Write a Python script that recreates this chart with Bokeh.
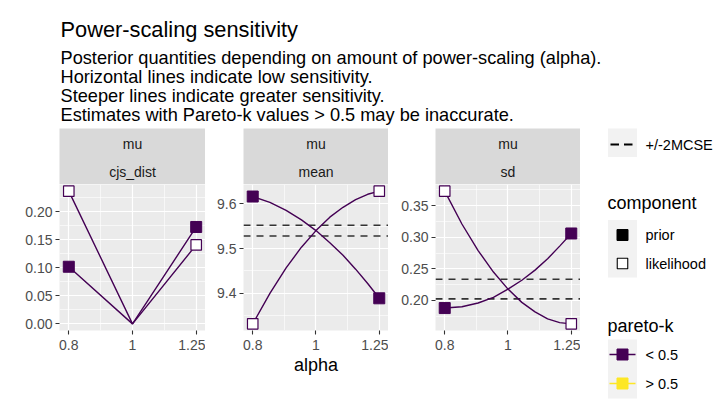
from bokeh.plotting import figure
from bokeh.layouts import column, row
from bokeh.models import Range1d, FixedTicker, ColumnDataSource
from bokeh.core.properties import value
from bokeh.embed import file_html
from bokeh.resources import INLINE

FONT = "Liberation Sans"

# ---------------- data ----------------
title_text = "Power-scaling sensitivity"
subtitle_lines = [
    "Posterior quantities depending on amount of power-scaling (alpha).",
    "Horizontal lines indicate low sensitivity.",
    "Steeper lines indicate greater sensitivity.",
    "Estimates with Pareto-k values > 0.5 may be inaccurate.",
]
variable = "mu"
quantities = ["cjs_dist", "mean", "sd"]

alpha_cjs = [0.8, 1.0, 1.25]
cjs_prior = [0.102, 0.0, 0.173]
cjs_likelihood = [0.237, 0.0, 0.141]

alpha_grid = [0.8, 0.85, 0.9, 0.95, 1.0, 1.05, 1.1, 1.15, 1.2, 1.25]
mean_prior = [9.616, 9.603, 9.585, 9.564, 9.540, 9.513, 9.485, 9.454, 9.422, 9.389]
mean_likelihood = [9.332, 9.400, 9.457, 9.503, 9.540, 9.570, 9.592, 9.609, 9.621, 9.628]
sd_prior = [0.188, 0.190, 0.196, 0.205, 0.218, 0.232, 0.248, 0.266, 0.286, 0.306]
sd_likelihood = [0.373, 0.321, 0.279, 0.245, 0.218, 0.197, 0.182, 0.171, 0.165, 0.163]

mcse_mean = [9.528, 9.552]
mcse_sd = [0.2025, 0.2335]

x_ticks = [0.8, 1.0, 1.25]
x_tick_labels = ["0.8", "1", "1.25"]
x_minor = [0.8944, 1.118]

y_ticks_cjs = [0.0, 0.05, 0.10, 0.15, 0.20]
y_labels_cjs = ["0.00", "0.05", "0.10", "0.15", "0.20"]
y_ticks_mean = [9.4, 9.5, 9.6]
y_labels_mean = ["9.4", "9.5", "9.6"]
y_ticks_sd = [0.20, 0.25, 0.30, 0.35]
y_labels_sd = ["0.20", "0.25", "0.30", "0.35"]

component_labels = ["prior", "likelihood"]
pareto_labels = ["< 0.5", "> 0.5"]
mcse_label = "+/-2MCSE"

# ---------------- style ----------------
PURPLE = "#440154"
YELLOW = "#FDE725"
PANEL_BG = "#EBEBEB"
STRIP_BG = "#D9D9D9"
HEADER_H = 128
STRIP_H = 56
FRAME_H = 146
BOTTOM = 412 - HEADER_H - STRIP_H - FRAME_H
XLO, XHI = 0.7744, 1.2914


def minors(ticks, lo, hi):
    step = ticks[1] - ticks[0]
    out = []
    t = ticks[0] - step / 2
    while t < hi:
        if t > lo:
            out.append(t)
        t += step
    return out


def make_panel(q, alphas, prior, lik, mcse, yticks, ylabels, left, frame_w, xlabel):
    vals = prior + lik + (mcse or [])
    lo, hi = min(vals), max(vals)
    pad = 0.05 * (hi - lo)
    y0, y1 = lo - pad, hi + pad
    p = figure(width=left + frame_w, height=FRAME_H + BOTTOM, x_axis_type="log",
               x_range=Range1d(XLO, XHI), y_range=Range1d(y0, y1),
               output_backend="svg", toolbar_location=None,
               min_border_left=left, min_border_right=0, min_border_top=0,
               min_border_bottom=BOTTOM)
    p.background_fill_color = PANEL_BG
    p.border_fill_color = "white"
    p.outline_line_color = None

    p.xaxis.ticker = FixedTicker(ticks=x_ticks, minor_ticks=x_minor)
    p.xaxis.major_label_overrides = {t: l for t, l in zip(x_ticks, x_tick_labels)}
    p.yaxis.ticker = FixedTicker(ticks=yticks, minor_ticks=minors(yticks, y0, y1))
    p.yaxis.major_label_overrides = {t: l for t, l in zip(yticks, ylabels)}
    for ax in (p.xaxis, p.yaxis):
        ax.axis_line_color = None
        ax.major_tick_line_color = "#333333"
        ax.major_tick_line_width = 1.1
        ax.major_tick_out = 4
        ax.major_tick_in = 0
        ax.minor_tick_line_color = None
        ax.major_label_text_font = FONT
        ax.major_label_text_font_size = "14px"
        ax.major_label_text_color = "#4D4D4D"
        ax.major_label_standoff = 3
    p.xaxis.major_label_standoff = 5
    if xlabel:
        p.xaxis.axis_label = "alpha"
        p.xaxis.axis_label_text_font = FONT
        p.xaxis.axis_label_text_font_size = "18px"
        p.xaxis.axis_label_text_font_style = "normal"
        p.xaxis.axis_label_text_color = "black"
        p.xaxis.axis_label_standoff = 2
    for g in (p.xgrid, p.ygrid):
        g.grid_line_color = "white"
        g.grid_line_width = 1.2
        g.minor_grid_line_color = "white"
        g.minor_grid_line_width = 0.6

    if mcse:
        for m in mcse:
            p.line(x=[XLO, XHI], y=[m, m], line_color="#333333", line_width=1.6,
                   line_dash="7 6")

    p.line(x=alphas, y=prior, line_color=PURPLE, line_width=1.4)
    p.line(x=alphas, y=lik, line_color=PURPLE, line_width=1.4)
    ends = [0, len(alphas) - 1]
    src_p = ColumnDataSource(dict(x=[alphas[i] for i in ends], y=[prior[i] for i in ends]))
    src_l = ColumnDataSource(dict(x=[alphas[i] for i in ends], y=[lik[i] for i in ends]))
    p.scatter(x="x", y="y", source=src_p, marker="square", size=11,
              fill_color=PURPLE, line_color=PURPLE, line_width=1)
    p.scatter(x="x", y="y", source=src_l, marker="square", size=10.5,
              fill_color="white", line_color=PURPLE, line_width=1.2)

    strip = figure(width=left + frame_w, height=STRIP_H, x_range=Range1d(0, 1),
                   y_range=Range1d(0, STRIP_H), output_backend="svg",
                   toolbar_location=None, min_border_left=left, min_border_right=0,
                   min_border_top=0, min_border_bottom=0)
    strip.axis.visible = False
    strip.grid.visible = False
    strip.background_fill_color = STRIP_BG
    strip.border_fill_color = "white"
    strip.outline_line_color = None
    strip.text(x=[0.5, 0.5], y=[STRIP_H - 15, STRIP_H - 43], text=[variable, q],
               text_align="center", text_baseline="middle", text_color="#1A1A1A",
               text_font=value(FONT), text_font_size="14px")
    return column(strip, p, spacing=0)


panel1 = make_panel(quantities[0], alpha_cjs, cjs_prior, cjs_likelihood, None,
                    y_ticks_cjs, y_labels_cjs, 59, 146, False)
panel2 = make_panel(quantities[1], alpha_grid, mean_prior, mean_likelihood, mcse_mean,
                    y_ticks_mean, y_labels_mean, 38, 145, True)
panel3 = make_panel(quantities[2], alpha_grid, sd_prior, sd_likelihood, mcse_sd,
                    y_ticks_sd, y_labels_sd, 47, 145, False)

# ---------------- header ----------------
header = figure(width=724, height=HEADER_H, x_range=Range1d(0, 724),
                y_range=Range1d(HEADER_H, 0), output_backend="svg",
                toolbar_location=None, min_border=0)
header.axis.visible = False
header.grid.visible = False
header.outline_line_color = None
header.text(x=[60], y=[29.3], text=[title_text], text_font=value(FONT),
            text_font_size="21.8px", text_baseline="alphabetic", text_color="black")
header.text(x=[60] * 4, y=[57, 76, 95, 114], text=subtitle_lines, text_font=value(FONT),
            text_font_size="18.2px", text_baseline="alphabetic", text_color="black")

# ---------------- legend ----------------
LW = 724 - 580
leg = figure(width=LW, height=412 - HEADER_H, x_range=Range1d(580, 724),
             y_range=Range1d(412, HEADER_H), output_backend="svg",
             toolbar_location=None, min_border=0)
leg.axis.visible = False
leg.grid.visible = False
leg.outline_line_color = None
KEY_BG = "#F2F2F2"
# +/-2MCSE
leg.quad(left=[607.5], right=[636.5], top=[127], bottom=[156.5], fill_color=KEY_BG,
         line_color=None)
leg.segment(x0=[610, 623.5], x1=[618.5, 632], y0=[144, 144], y1=[144, 144],
            line_color="black", line_width=1.8)
leg.text(x=[645], y=[144], text=[mcse_label], text_font=value(FONT),
         text_font_size="14.5px", text_baseline="middle")
# component
leg.text(x=[607], y=[202], text=["component"], text_font=value(FONT),
         text_font_size="18px", text_baseline="middle")
leg.quad(left=[607.5], right=[636.5], top=[219.5], bottom=[277], fill_color=KEY_BG,
         line_color=None)
leg.scatter(x=[622], y=[234.5], marker="square", size=11, fill_color="black",
            line_color="black")
leg.scatter(x=[622], y=[263], marker="square", size=10.5, fill_color="white",
            line_color="black", line_width=1.1)
leg.text(x=[645, 645], y=[234.5, 263], text=component_labels, text_font=value(FONT),
         text_font_size="14.5px", text_baseline="middle")
# pareto-k
leg.text(x=[607], y=[325], text=["pareto-k"], text_font=value(FONT),
         text_font_size="18px", text_baseline="middle")
leg.quad(left=[607.5], right=[636.5], top=[339], bottom=[398], fill_color=KEY_BG,
         line_color=None)
leg.segment(x0=[609, 609], x1=[635, 635], y0=[354, 383], y1=[354, 383],
            line_color=[PURPLE, YELLOW], line_width=1.4)
leg.scatter(x=[622, 622], y=[354, 383], marker="square", size=11,
            fill_color=[PURPLE, YELLOW], line_color=[PURPLE, YELLOW])
leg.text(x=[645, 645], y=[354, 383], text=pareto_labels, text_font=value(FONT),
         text_font_size="14.5px", text_baseline="middle")

layout = column(header, row(panel1, panel2, panel3, leg, spacing=0), spacing=0)

with open("out.html", "w") as f:
    f.write(file_html(layout, INLINE))
